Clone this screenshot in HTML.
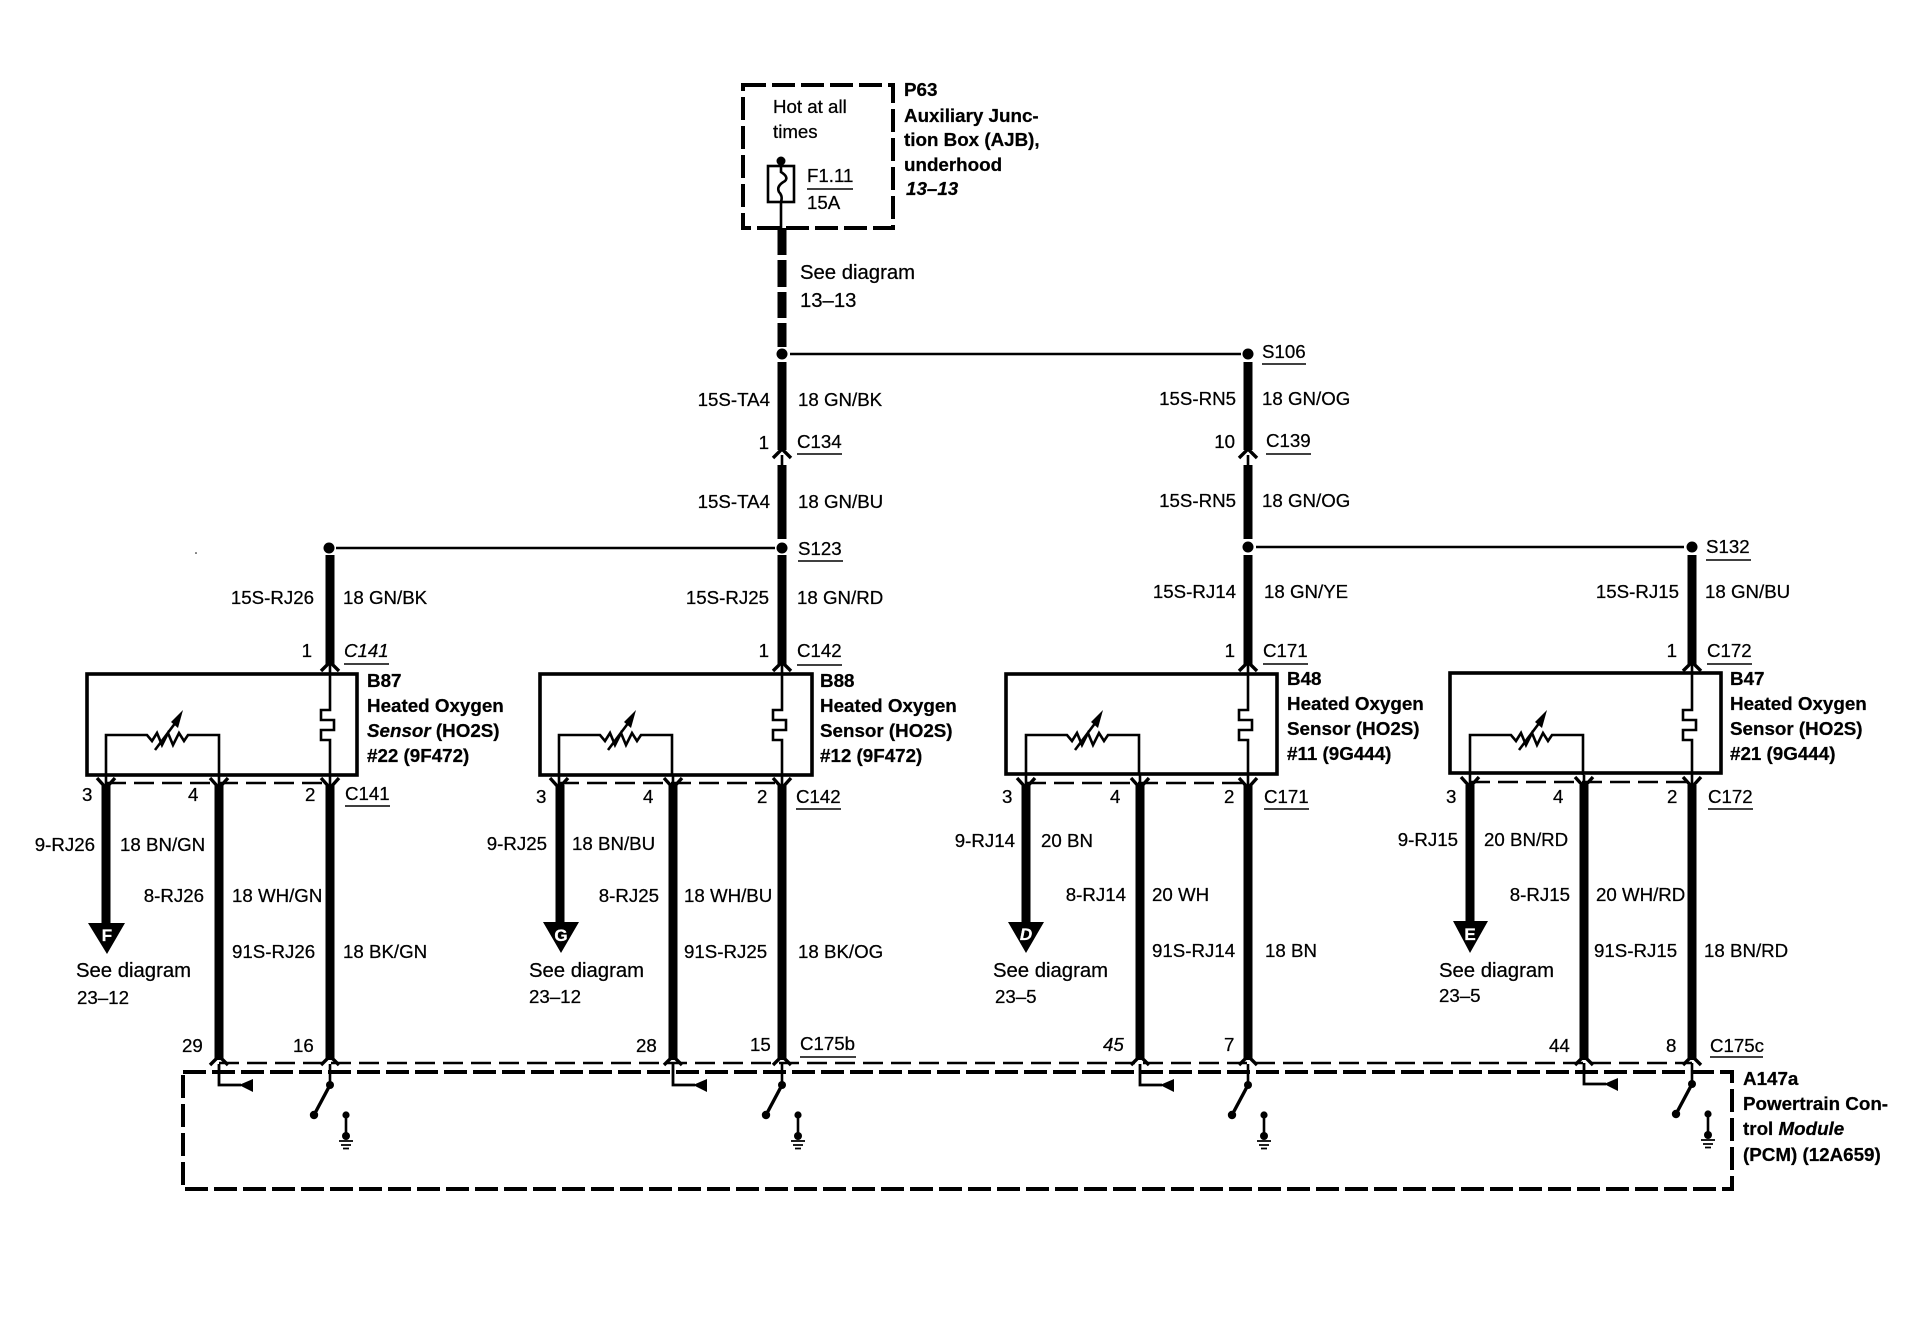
<!DOCTYPE html>
<html lang="en"><head><meta charset="utf-8"><title>Heated Oxygen Sensor wiring diagram</title>
<style>
html,body{margin:0;padding:0;background:#fff}
svg{display:block}
text{font-family:"Liberation Sans",Arial,sans-serif;font-size:18.7px;fill:#000;stroke:#000;stroke-width:.25}
.b{font-weight:bold;font-size:18.8px}
.s{font-size:20.3px}
.i{font-style:italic}
.e{text-anchor:end}
.w{stroke:#000;stroke-width:9;fill:none}
.t{stroke:#000;stroke-width:2.6;fill:none}
.u{stroke:#000;stroke-width:1.6;fill:none}
.d{stroke:#000;stroke-width:4;fill:none;stroke-dasharray:23 6}
.c{stroke:#000;stroke-width:2.6;fill:none;stroke-dasharray:20 8}
.k{fill:#000;stroke:none}
.l{fill:#fff;stroke:#fff;font-weight:bold;font-size:17px;text-anchor:middle;stroke-width:.3}
</style></head><body>
<svg xmlns="http://www.w3.org/2000/svg" width="1906" height="1344" viewBox="0 0 1906 1344">
<defs>
<path id="up" d="M-9 7 L0 -2 L9 7" fill="none" stroke="#000" stroke-width="3.4"/>
<path id="dn" d="M-9 -5 L0 5 L9 -5" fill="none" stroke="#000" stroke-width="3.4"/>
<g id="res"><path d="M0 775V735H41l5 6 5-8 5 12 6-12 5 12 6-12 5 8 4-6H113V775" fill="none" stroke="#000" stroke-width="2.6"/>
<path d="M49 750L70 722" stroke="#000" stroke-width="2.6"/><path d="M77 710L72 728 65 722Z" fill="#000"/></g>
<path id="heat" d="M0 674V710H-9V720H4V730H-9V740H0V775" fill="none" stroke="#000" stroke-width="2.6"/>
<g id="sw"><line x1="0" y1="1064" x2="0" y2="1084" class="t"/><circle cx="0" cy="1085" r="4" class="k"/><line x1="0" y1="1085" x2="-16" y2="1115" stroke="#000" stroke-width="3.4"/><circle cx="-16" cy="1115" r="4.2" class="k"/></g>
<g id="gnd"><circle cx="16" cy="1115" r="3.6" class="k"/><line x1="16" y1="1115" x2="16" y2="1137" class="t"/><circle cx="16" cy="1136" r="4" class="k"/><path d="M9 1141H23M11 1145H21M13 1148.500H19" stroke="#000" stroke-width="1.8"/></g>
<g id="elb"><path d="M0 1064V1085H22" fill="none" stroke="#000" stroke-width="2.8"/><path d="M20 1085L34 1079V1092Z" fill="#000"/></g>
</defs>

<!-- P63 box -->
<path d="M743 85H893V228H743Z" class="d"/>
<text x="773" y="113">Hot at all</text><text x="773" y="138">times</text>
<circle cx="781" cy="161" r="4.500" class="k"/>
<rect x="768" y="166" width="26" height="36" class="t"/>
<path d="M781 161V172Q789 177 785 181Q776 186 779 192Q783 196 781 202V230" class="t"/>
<text x="807" y="182">F1.11</text><line x1="807" y1="189" x2="853" y2="189" class="u"/><text x="807" y="209">15A</text>
<text x="904" y="96" class="b">P63</text>
<text x="904" y="122" class="b">Auxiliary Junc-</text>
<text x="904" y="146" class="b">tion Box (AJB),</text>
<text x="904" y="171" class="b">underhood</text>
<text x="906" y="195" class="b i">13–13</text>

<!-- top feed -->
<path d="M782 228V255M782 260V287M782 292V318M782 323V347" class="w"/>
<text x="800" y="279" class="s">See diagram</text><text x="800" y="307" class="s">13–13</text>
<circle cx="782" cy="354" r="5.500" class="k"/><circle cx="1248" cy="354" r="5.500" class="k"/>
<line x1="790" y1="354" x2="1241" y2="354" class="t"/>
<text x="1262" y="358">S106</text><line x1="1262" y1="364" x2="1306" y2="364" class="u"/>
<path d="M782 362V450M1248 362V450M782 465V539M1248 465V539" class="w"/>
<use href="#up" x="782" y="451"/><use href="#up" x="1248" y="451"/>
<path d="M782 455V466M1248 455V466" class="t"/>
<text x="770" y="406" class="e">15S-TA4</text><text x="798" y="406">18 GN/BK</text>
<text x="769" y="449" class="e">1</text><text x="797" y="448">C134</text><line x1="797" y1="454" x2="842" y2="454" class="u"/>
<text x="770" y="508" class="e">15S-TA4</text><text x="798" y="508">18 GN/BU</text>
<text x="1236" y="405" class="e">15S-RN5</text><text x="1262" y="405">18 GN/OG</text>
<text x="1235" y="448" class="e">10</text><text x="1266" y="447">C139</text><line x1="1266" y1="454" x2="1311" y2="454" class="u"/>
<text x="1236" y="507" class="e">15S-RN5</text><text x="1262" y="507">18 GN/OG</text>

<!-- branch lines -->
<line x1="336" y1="548" x2="775" y2="548" class="t"/>
<line x1="1256" y1="547" x2="1684" y2="547" class="t"/>
<circle cx="329" cy="548" r="5.500" class="k"/><circle cx="782" cy="548" r="5.500" class="k"/><circle cx="1248" cy="547" r="5.500" class="k"/><circle cx="1692" cy="547" r="5.500" class="k"/>
<text x="798" y="555">S123</text><line x1="798" y1="561" x2="843" y2="561" class="u"/>
<text x="1706" y="553">S132</text><line x1="1706" y1="560" x2="1751" y2="560" class="u"/>
<path d="M330 555V664M782 555V664M1248 555V664M1692 555V664" class="w"/>
<use href="#up" x="330" y="664"/><use href="#up" x="782" y="664"/><use href="#up" x="1248" y="664"/><use href="#up" x="1692" y="664"/>
<text x="314" y="604" class="e">15S-RJ26</text><text x="343" y="604">18 GN/BK</text>
<text x="769" y="604" class="e">15S-RJ25</text><text x="797" y="604">18 GN/RD</text>
<text x="1236" y="598" class="e">15S-RJ14</text><text x="1264" y="598">18 GN/YE</text>
<text x="1679" y="598" class="e">15S-RJ15</text><text x="1705" y="598">18 GN/BU</text>
<text x="312" y="657" class="e">1</text><text x="344" y="657" class="i">C141</text><line x1="344" y1="664" x2="389" y2="664" class="u"/>
<text x="769" y="657" class="e">1</text><text x="797" y="657">C142</text><line x1="797" y1="665" x2="842" y2="665" class="u"/>
<text x="1235" y="657" class="e">1</text><text x="1263" y="657">C171</text><line x1="1263" y1="664" x2="1308" y2="664" class="u"/>
<text x="1677" y="657" class="e">1</text><text x="1707" y="657">C172</text><line x1="1707" y1="664" x2="1752" y2="664" class="u"/>

<!-- sensor boxes -->
<rect x="87" y="674" width="270" height="101" fill="none" stroke="#000" stroke-width="3.6"/>
<rect x="540" y="674" width="272" height="101" fill="none" stroke="#000" stroke-width="3.6"/>
<rect x="1006" y="674" width="271" height="100" fill="none" stroke="#000" stroke-width="3.6"/>
<rect x="1450" y="673" width="271" height="100" fill="none" stroke="#000" stroke-width="3.6"/>
<use href="#res" x="106"/><use href="#res" x="559"/><use href="#res" x="1026"/><use href="#res" x="1470"/>
<use href="#heat" x="330"/><use href="#heat" x="782"/><use href="#heat" x="1248"/><use href="#heat" x="1692"/>
<path d="M330 664V674M782 664V674M1248 664V674M1692 664V674" class="t"/>

<text x="367" y="687" class="b">B87</text><text x="367" y="712" class="b">Heated Oxygen</text><text x="367" y="737" class="b"><tspan class="i">Sensor</tspan> (HO2S)</text><text x="367" y="762" class="b">#22 (9F472)</text>
<text x="820" y="687" class="b">B88</text><text x="820" y="712" class="b">Heated Oxygen</text><text x="820" y="737" class="b">Sensor (HO2S)</text><text x="820" y="762" class="b">#12 (9F472)</text>
<text x="1287" y="685" class="b">B48</text><text x="1287" y="710" class="b">Heated Oxygen</text><text x="1287" y="735" class="b">Sensor (HO2S)</text><text x="1287" y="760" class="b">#11 (9G444)</text>
<text x="1730" y="685" class="b">B47</text><text x="1730" y="710" class="b">Heated Oxygen</text><text x="1730" y="735" class="b">Sensor (HO2S)</text><text x="1730" y="760" class="b">#21 (9G444)</text>

<!-- lower connector dashes -->
<line x1="106" y1="783" x2="330" y2="783" class="c"/><line x1="559" y1="783" x2="782" y2="783" class="c"/><line x1="1026" y1="783" x2="1248" y2="783" class="c"/><line x1="1470" y1="782" x2="1692" y2="782" class="c"/>

<!-- lower wires -->
<path d="M106 785V925M219 785V1060M330 785V1060M560 785V925M673 785V1060M782 785V1060M1026 785V925M1140 785V1060M1248 785V1060M1470 785V925M1584 785V1060M1692 785V1060" class="w"/>
<path d="M106 775V786M219 775V786M330 775V786M559 775V786M673 775V786M782 775V786M1026 775V786M1140 775V786M1248 775V786M1470 775V786M1584 775V786M1692 775V786" class="t"/>
<use href="#dn" x="106" y="783"/><use href="#dn" x="219" y="783"/><use href="#dn" x="330" y="783"/>
<use href="#dn" x="559" y="783"/><use href="#dn" x="673" y="783"/><use href="#dn" x="782" y="783"/>
<use href="#dn" x="1026" y="783"/><use href="#dn" x="1140" y="783"/><use href="#dn" x="1248" y="783"/>
<use href="#dn" x="1470" y="782"/><use href="#dn" x="1584" y="782"/><use href="#dn" x="1692" y="782"/>

<!-- triangles -->
<path d="M88 923H125L107 954Z" class="k"/><path d="M543 922H579L561 953Z" class="k"/><path d="M1008 922H1044L1026 953Z" class="k"/><path d="M1453 921H1488L1470 953Z" class="k"/>
<text x="107" y="941" class="l">F</text><text x="561" y="941" class="l">G</text><text x="1026" y="940" class="l i">D</text><text x="1470" y="940" class="l">E</text>

<!-- lower labels S1 -->
<text x="82" y="801">3</text><text x="188" y="801">4</text><text x="305" y="801">2</text>
<text x="345" y="800">C141</text><line x1="345" y1="806" x2="390" y2="806" class="u"/>
<text x="95" y="851" class="e">9-RJ26</text><text x="120" y="851">18 BN/GN</text>
<text x="204" y="902" class="e">8-RJ26</text><text x="232" y="902">18 WH/GN</text>
<text x="232" y="958">91S-RJ26</text><text x="343" y="958">18 BK/GN</text>
<text x="76" y="977" class="s">See diagram</text><text x="77" y="1004">23–12</text>
<!-- S2 -->
<text x="536" y="803">3</text><text x="643" y="803">4</text><text x="757" y="803">2</text>
<text x="796" y="803">C142</text><line x1="796" y1="809" x2="841" y2="809" class="u"/>
<text x="547" y="850" class="e">9-RJ25</text><text x="572" y="850">18 BN/BU</text>
<text x="659" y="902" class="e">8-RJ25</text><text x="684" y="902">18 WH/BU</text>
<text x="684" y="958">91S-RJ25</text><text x="798" y="958">18 BK/OG</text>
<text x="529" y="977" class="s">See diagram</text><text x="529" y="1003">23–12</text>
<!-- S3 -->
<text x="1002" y="803">3</text><text x="1110" y="803">4</text><text x="1224" y="803">2</text>
<text x="1264" y="803">C171</text><line x1="1264" y1="809" x2="1309" y2="809" class="u"/>
<text x="1015" y="847" class="e">9-RJ14</text><text x="1041" y="847">20 BN</text>
<text x="1126" y="901" class="e">8-RJ14</text><text x="1152" y="901">20 WH</text>
<text x="1152" y="957">91S-RJ14</text><text x="1265" y="957">18 BN</text>
<text x="993" y="977" class="s">See diagram</text><text x="995" y="1003">23–5</text>
<!-- S4 -->
<text x="1446" y="803">3</text><text x="1553" y="803">4</text><text x="1667" y="803">2</text>
<text x="1708" y="803">C172</text><line x1="1708" y1="809" x2="1753" y2="809" class="u"/>
<text x="1458" y="846" class="e">9-RJ15</text><text x="1484" y="846">20 BN/RD</text>
<text x="1570" y="901" class="e">8-RJ15</text><text x="1596" y="901">20 WH/RD</text>
<text x="1594" y="957">91S-RJ15</text><text x="1704" y="957">18 BN/RD</text>
<text x="1439" y="977" class="s">See diagram</text><text x="1439" y="1002">23–5</text>

<!-- bottom labels -->
<text x="182" y="1052">29</text><text x="293" y="1052">16</text><text x="636" y="1052">28</text><text x="750" y="1051">15</text>
<text x="800" y="1050">C175b</text><line x1="800" y1="1057" x2="856" y2="1057" class="u"/>
<text x="1103" y="1051" class="i">45</text><text x="1224" y="1051">7</text><text x="1549" y="1052">44</text><text x="1666" y="1052">8</text>
<text x="1710" y="1052">C175c</text><line x1="1710" y1="1057" x2="1763" y2="1057" class="u"/>

<!-- bottom connector dashes + PCM -->
<line x1="219" y1="1063" x2="1692" y2="1063" class="c"/>
<path d="M183 1072H1732V1189H183Z" class="d"/>
<use href="#up" x="219" y="1058"/><use href="#up" x="330" y="1058"/><use href="#up" x="673" y="1058"/><use href="#up" x="782" y="1058"/><use href="#up" x="1140" y="1058"/><use href="#up" x="1248" y="1058"/><use href="#up" x="1584" y="1058"/><use href="#up" x="1692" y="1058"/>
<use href="#elb" x="219"/><use href="#elb" x="673"/><use href="#elb" x="1140"/><use href="#elb" x="1584" y="-1"/>
<use href="#sw" x="330"/><use href="#sw" x="782"/><use href="#sw" x="1248"/><use href="#sw" x="1692" y="-1"/>
<use href="#gnd" x="330"/><use href="#gnd" x="782"/><use href="#gnd" x="1248"/><use href="#gnd" x="1692" y="-1"/>
<text x="1743" y="1085" class="b">A147a</text>
<text x="1743" y="1110" class="b">Powertrain Con-</text>
<text x="1743" y="1135" class="b">trol <tspan class="i">Module</tspan></text>
<text x="1743" y="1161" class="b">(PCM) (12A659)</text>
<circle cx="196" cy="553" r=".8" class="k"/>
</svg>
</body></html>
